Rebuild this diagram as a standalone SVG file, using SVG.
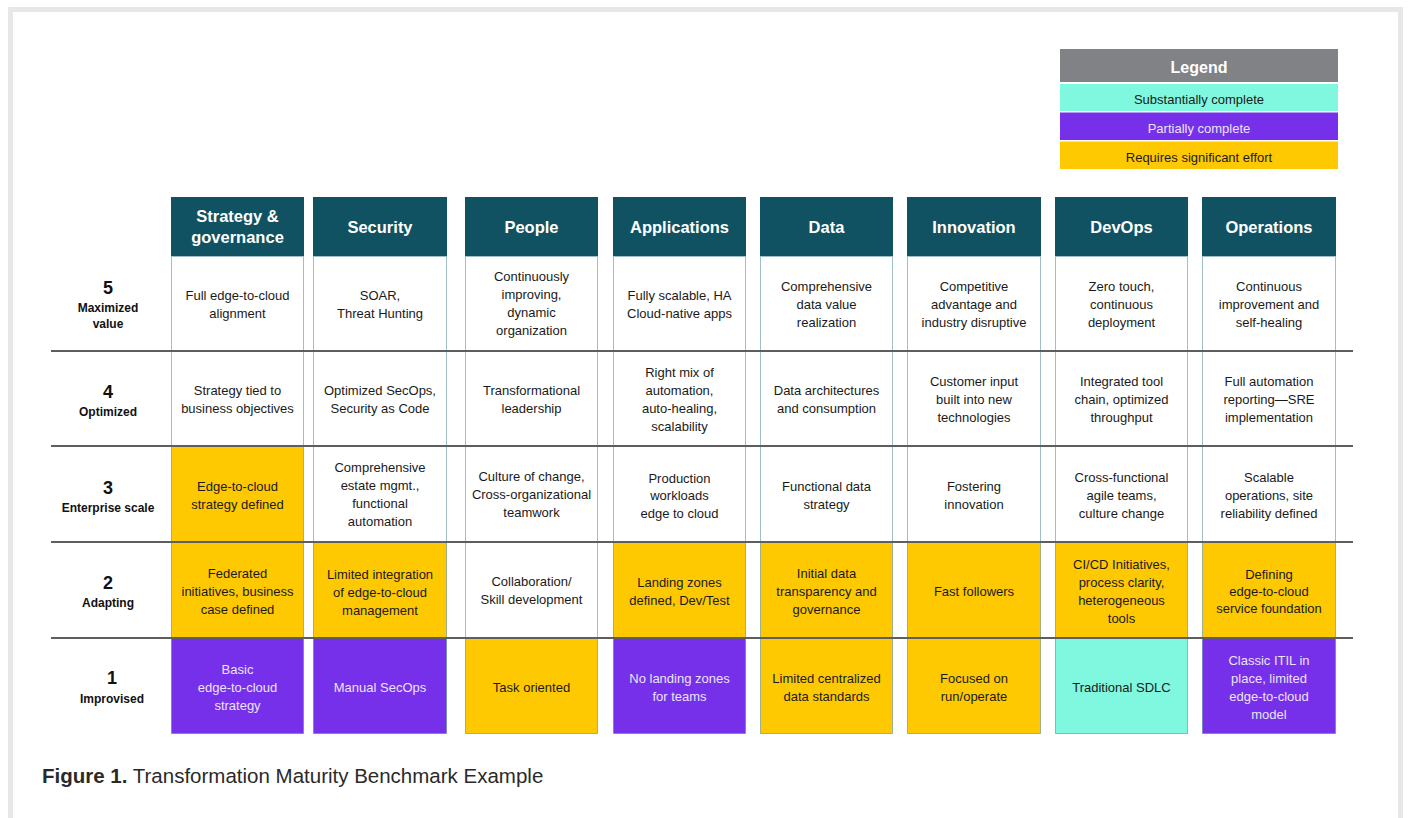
<svg xmlns="http://www.w3.org/2000/svg" width="1408" height="818" viewBox="0 0 1408 818">
<style>
.frame{fill:none;stroke:#e6e7e8;stroke-width:5}
.hd{fill:#105262}
.hdt{font-family:"Liberation Sans",Arial,sans-serif;font-size:16.5px;font-weight:bold;fill:#ffffff;text-anchor:middle}
.cell{stroke:#3e7c91;stroke-width:1;stroke-dasharray:1 1}
.w{fill:#ffffff}
.y{fill:#fec901}
.p{fill:#7630ea}
.a{fill:#80f8e0}
.t{font-family:"Liberation Sans",Arial,sans-serif;font-size:13px;fill:#1a1a1a;text-anchor:middle}
.tp{font-family:"Liberation Sans",Arial,sans-serif;font-size:13px;fill:#ece4ff;text-anchor:middle}
.rn{font-family:"Liberation Sans",Arial,sans-serif;font-size:18px;font-weight:bold;fill:#111;text-anchor:middle}
.rl{font-family:"Liberation Sans",Arial,sans-serif;font-size:12px;font-weight:bold;fill:#111;text-anchor:middle}
.rule{stroke:#5e5e5e;stroke-width:2}
.lg{font-family:"Liberation Sans",Arial,sans-serif;font-size:13px;text-anchor:middle}
.cap{font-family:"Liberation Sans",Arial,sans-serif;font-size:20.5px;fill:#2a2a2a}
</style>
<rect x="0" y="0" width="1408" height="818" fill="#ffffff"/>
<path class="frame" d="M10.5,830 V9.5 H1400.5 V830"/>

<g id="legend">
<rect x="1060" y="49" width="278" height="33" fill="#808285"/>
<text class="lg" x="1199" y="73" style="font-size:16px;font-weight:bold;fill:#ffffff">Legend</text>
<rect x="1060" y="84" width="278" height="27" fill="#80f8e0"/>
<text class="lg" x="1199" y="104" fill="#1a1a1a">Substantially complete</text>
<rect x="1060" y="112.5" width="278" height="27.5" fill="#7630ea"/>
<text class="lg" x="1199" y="133" fill="#ece4ff">Partially complete</text>
<rect x="1060" y="141.5" width="278" height="27.5" fill="#fec901"/>
<text class="lg" x="1199" y="162" fill="#1a1a1a">Requires significant effort</text>
</g>

<g id="headers">
<g id="h-strategy"><rect class="hd" x="171" y="197" width="133" height="59"/><text class="hdt" x="237.5" y="222">Strategy &amp;</text><text class="hdt" x="237.5" y="243">governance</text></g>
<g id="h-security"><rect class="hd" x="313" y="197" width="134" height="59"/><text class="hdt" x="380" y="233">Security</text></g>
<g id="h-people"><rect class="hd" x="465" y="197" width="133" height="59"/><text class="hdt" x="531.5" y="233">People</text></g>
<g id="h-applications"><rect class="hd" x="613" y="197" width="133" height="59"/><text class="hdt" x="679.5" y="233">Applications</text></g>
<g id="h-data"><rect class="hd" x="760" y="197" width="133" height="59"/><text class="hdt" x="826.5" y="233">Data</text></g>
<g id="h-innovation"><rect class="hd" x="907" y="197" width="134" height="59"/><text class="hdt" x="974" y="233">Innovation</text></g>
<g id="h-devops"><rect class="hd" x="1055" y="197" width="133" height="59"/><text class="hdt" x="1121.5" y="233">DevOps</text></g>
<g id="h-operations"><rect class="hd" x="1202" y="197" width="134" height="59"/><text class="hdt" x="1269" y="233">Operations</text></g>
</g>

<g id="row-labels">
<g id="lvl5"><text class="rn" x="108" y="294">5</text><text class="rl" x="108" y="312">Maximized</text><text class="rl" x="108" y="328">value</text></g>
<g id="lvl4"><text class="rn" x="108" y="398">4</text><text class="rl" x="108" y="416">Optimized</text></g>
<g id="lvl3"><text class="rn" x="108" y="494">3</text><text class="rl" x="108" y="512">Enterprise scale</text></g>
<g id="lvl2"><text class="rn" x="108" y="589">2</text><text class="rl" x="108" y="607">Adapting</text></g>
<g id="lvl1"><text class="rn" x="112" y="684">1</text><text class="rl" x="112" y="703">Improvised</text></g>
</g>

<g id="cells">
<g id="c5-strategy"><rect class="cell w" x="171.5" y="256.5" width="132" height="94"/><text class="t" x="237.5" y="300">Full edge-to-cloud<tspan x="237.5" dy="18">alignment</tspan></text></g>
<g id="c5-security"><rect class="cell w" x="313.5" y="256.5" width="133" height="94"/><text class="t" x="380" y="300">SOAR,<tspan x="380" dy="18">Threat Hunting</tspan></text></g>
<g id="c5-people"><rect class="cell w" x="465.5" y="256.5" width="132" height="94"/><text class="t" x="531.5" y="281">Continuously<tspan x="531.5" dy="18">improving,</tspan><tspan x="531.5" dy="18">dynamic</tspan><tspan x="531.5" dy="18">organization</tspan></text></g>
<g id="c5-applications"><rect class="cell w" x="613.5" y="256.5" width="132" height="94"/><text class="t" x="679.5" y="300">Fully scalable, HA<tspan x="679.5" dy="18">Cloud-native apps</tspan></text></g>
<g id="c5-data"><rect class="cell w" x="760.5" y="256.5" width="132" height="94"/><text class="t" x="826.5" y="291">Comprehensive<tspan x="826.5" dy="18">data value</tspan><tspan x="826.5" dy="18">realization</tspan></text></g>
<g id="c5-innovation"><rect class="cell w" x="907.5" y="256.5" width="133" height="94"/><text class="t" x="974" y="291">Competitive<tspan x="974" dy="18">advantage and</tspan><tspan x="974" dy="18">industry disruptive</tspan></text></g>
<g id="c5-devops"><rect class="cell w" x="1055.5" y="256.5" width="132" height="94"/><text class="t" x="1121.5" y="291">Zero touch,<tspan x="1121.5" dy="18">continuous</tspan><tspan x="1121.5" dy="18">deployment</tspan></text></g>
<g id="c5-operations"><rect class="cell w" x="1202.5" y="256.5" width="133" height="94"/><text class="t" x="1269" y="291">Continuous<tspan x="1269" dy="18">improvement and</tspan><tspan x="1269" dy="18">self-healing</tspan></text></g>

<g id="c4-strategy"><rect class="cell w" x="171.5" y="351.5" width="132" height="94"/><text class="t" x="237.5" y="395">Strategy tied to<tspan x="237.5" dy="18">business objectives</tspan></text></g>
<g id="c4-security"><rect class="cell w" x="313.5" y="351.5" width="133" height="94"/><text class="t" x="380" y="395">Optimized SecOps,<tspan x="380" dy="18">Security as Code</tspan></text></g>
<g id="c4-people"><rect class="cell w" x="465.5" y="351.5" width="132" height="94"/><text class="t" x="531.5" y="395">Transformational<tspan x="531.5" dy="18">leadership</tspan></text></g>
<g id="c4-applications"><rect class="cell w" x="613.5" y="351.5" width="132" height="94"/><text class="t" x="679.5" y="377">Right mix of<tspan x="679.5" dy="18">automation,</tspan><tspan x="679.5" dy="18">auto-healing,</tspan><tspan x="679.5" dy="18">scalability</tspan></text></g>
<g id="c4-data"><rect class="cell w" x="760.5" y="351.5" width="132" height="94"/><text class="t" x="826.5" y="395">Data architectures<tspan x="826.5" dy="18">and consumption</tspan></text></g>
<g id="c4-innovation"><rect class="cell w" x="907.5" y="351.5" width="133" height="94"/><text class="t" x="974" y="386">Customer input<tspan x="974" dy="18">built into new</tspan><tspan x="974" dy="18">technologies</tspan></text></g>
<g id="c4-devops"><rect class="cell w" x="1055.5" y="351.5" width="132" height="94"/><text class="t" x="1121.5" y="386">Integrated tool<tspan x="1121.5" dy="18">chain, optimized</tspan><tspan x="1121.5" dy="18">throughput</tspan></text></g>
<g id="c4-operations"><rect class="cell w" x="1202.5" y="351.5" width="133" height="94"/><text class="t" x="1269" y="386">Full automation<tspan x="1269" dy="18">reporting—SRE</tspan><tspan x="1269" dy="18">implementation</tspan></text></g>

<g id="c3-strategy"><rect class="cell y" x="171.5" y="446.5" width="132" height="95"/><text class="t" x="237.5" y="491">Edge-to-cloud<tspan x="237.5" dy="18">strategy defined</tspan></text></g>
<g id="c3-security"><rect class="cell w" x="313.5" y="446.5" width="133" height="95"/><text class="t" x="380" y="472">Comprehensive<tspan x="380" dy="18">estate mgmt.,</tspan><tspan x="380" dy="18">functional</tspan><tspan x="380" dy="18">automation</tspan></text></g>
<g id="c3-people"><rect class="cell w" x="465.5" y="446.5" width="132" height="95"/><text class="t" x="531.5" y="481">Culture of change,<tspan x="531.5" dy="18">Cross-organizational</tspan><tspan x="531.5" dy="18">teamwork</tspan></text></g>
<g id="c3-applications"><rect class="cell w" x="613.5" y="446.5" width="132" height="95"/><text class="t" x="679.5" y="483">Production<tspan x="679.5" dy="17">workloads</tspan><tspan x="679.5" dy="18">edge to cloud</tspan></text></g>
<g id="c3-data"><rect class="cell w" x="760.5" y="446.5" width="132" height="95"/><text class="t" x="826.5" y="491">Functional data<tspan x="826.5" dy="18">strategy</tspan></text></g>
<g id="c3-innovation"><rect class="cell w" x="907.5" y="446.5" width="133" height="95"/><text class="t" x="974" y="491">Fostering<tspan x="974" dy="18">innovation</tspan></text></g>
<g id="c3-devops"><rect class="cell w" x="1055.5" y="446.5" width="132" height="95"/><text class="t" x="1121.5" y="482">Cross-functional<tspan x="1121.5" dy="18">agile teams,</tspan><tspan x="1121.5" dy="18">culture change</tspan></text></g>
<g id="c3-operations"><rect class="cell w" x="1202.5" y="446.5" width="133" height="95"/><text class="t" x="1269" y="482">Scalable<tspan x="1269" dy="18">operations, site</tspan><tspan x="1269" dy="18">reliability defined</tspan></text></g>

<g id="c2-strategy"><rect class="cell y" x="171.5" y="542.5" width="132" height="95"/><text class="t" x="237.5" y="578">Federated<tspan x="237.5" dy="18">initiatives, business</tspan><tspan x="237.5" dy="18">case defined</tspan></text></g>
<g id="c2-security"><rect class="cell y" x="313.5" y="542.5" width="133" height="95"/><text class="t" x="380" y="579">Limited integration<tspan x="380" dy="18">of edge-to-cloud</tspan><tspan x="380" dy="18">management</tspan></text></g>
<g id="c2-people"><rect class="cell w" x="465.5" y="542.5" width="132" height="95"/><text class="t" x="531.5" y="586">Collaboration/<tspan x="531.5" dy="18">Skill development</tspan></text></g>
<g id="c2-applications"><rect class="cell y" x="613.5" y="542.5" width="132" height="95"/><text class="t" x="679.5" y="587">Landing zones<tspan x="679.5" dy="18">defined, Dev/Test</tspan></text></g>
<g id="c2-data"><rect class="cell y" x="760.5" y="542.5" width="132" height="95"/><text class="t" x="826.5" y="578">Initial data<tspan x="826.5" dy="18">transparency and</tspan><tspan x="826.5" dy="18">governance</tspan></text></g>
<g id="c2-innovation"><rect class="cell y" x="907.5" y="542.5" width="133" height="95"/><text class="t" x="974" y="596">Fast followers</text></g>
<g id="c2-devops"><rect class="cell y" x="1055.5" y="542.5" width="132" height="95"/><text class="t" x="1121.5" y="569">CI/CD Initiatives,<tspan x="1121.5" dy="18">process clarity,</tspan><tspan x="1121.5" dy="18">heterogeneous</tspan><tspan x="1121.5" dy="18">tools</tspan></text></g>
<g id="c2-operations"><rect class="cell y" x="1202.5" y="542.5" width="133" height="95"/><text class="t" x="1269" y="579">Defining<tspan x="1269" dy="17">edge-to-cloud</tspan><tspan x="1269" dy="17">service foundation</tspan></text></g>

<g id="c1-strategy"><rect class="cell p" x="171.5" y="638.5" width="132" height="95"/><text class="tp" x="237.5" y="674">Basic<tspan x="237.5" dy="18">edge-to-cloud</tspan><tspan x="237.5" dy="18">strategy</tspan></text></g>
<g id="c1-security"><rect class="cell p" x="313.5" y="638.5" width="133" height="95"/><text class="tp" x="380" y="692">Manual SecOps</text></g>
<g id="c1-people"><rect class="cell y" x="465.5" y="638.5" width="132" height="95"/><text class="t" x="531.5" y="692">Task oriented</text></g>
<g id="c1-applications"><rect class="cell p" x="613.5" y="638.5" width="132" height="95"/><text class="tp" x="679.5" y="683">No landing zones<tspan x="679.5" dy="18">for teams</tspan></text></g>
<g id="c1-data"><rect class="cell y" x="760.5" y="638.5" width="132" height="95"/><text class="t" x="826.5" y="683">Limited centralized<tspan x="826.5" dy="18">data standards</tspan></text></g>
<g id="c1-innovation"><rect class="cell y" x="907.5" y="638.5" width="133" height="95"/><text class="t" x="974" y="683">Focused on<tspan x="974" dy="18">run/operate</tspan></text></g>
<g id="c1-devops"><rect class="cell a" x="1055.5" y="638.5" width="132" height="95"/><text class="t" x="1121.5" y="692">Traditional SDLC</text></g>
<g id="c1-operations"><rect class="cell p" x="1202.5" y="638.5" width="133" height="95"/><text class="tp" x="1269" y="665">Classic ITIL in<tspan x="1269" dy="18">place, limited</tspan><tspan x="1269" dy="18">edge-to-cloud</tspan><tspan x="1269" dy="18">model</tspan></text></g>
</g>

<g id="connectors">
<line class="rule" x1="51" y1="351" x2="1353" y2="351"/>
<line class="rule" x1="51" y1="446" x2="1353" y2="446"/>
<line class="rule" x1="51" y1="542" x2="1353" y2="542"/>
<line class="rule" x1="51" y1="638" x2="1353" y2="638"/>
</g>

<g id="caption">
<text class="cap" x="42" y="783"><tspan font-weight="bold">Figure 1.</tspan> Transformation Maturity Benchmark Example</text>
</g>
</svg>
